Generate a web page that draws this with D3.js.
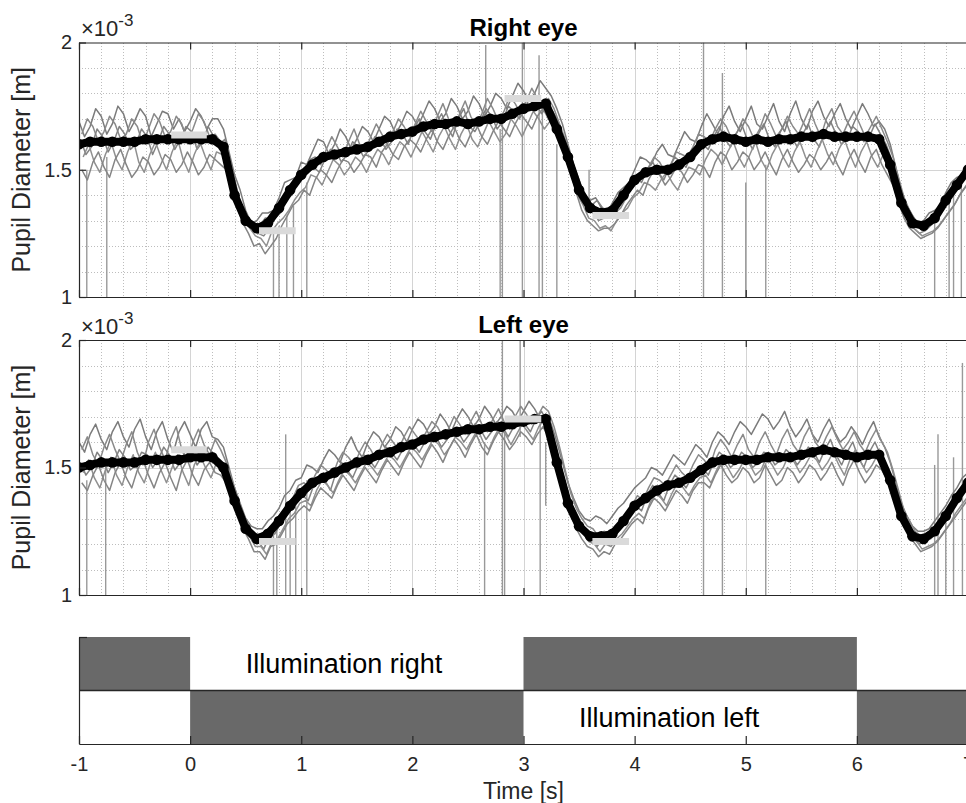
<!DOCTYPE html>
<html><head><meta charset="utf-8">
<script src="https://cdn.jsdelivr.net/npm/d3@7"></script>
<style>
body{margin:0;background:#fff}
svg{display:block;font-family:"Liberation Sans",Arial,Helvetica,sans-serif}
</style>
</head><body>
<svg id="c" width="966" height="803"></svg>
<script>
// ---------- DATA (values in units of 1e-3 m) ----------
// mean traces sampled every 0.1 s from -1 s to 7 s; single trials every 0.05 s
const meanTimes = d3.range(81).map(i => Math.round(-10 + i) / 10);
const trialTimes = d3.range(161).map(i => Math.round(-100 + 5 * i) / 100);
const trialShift = [0, 0.025, 0.0125, 0.0375, 0.025];
const xTicks = [-1, 0, 1, 2, 3, 4, 5, 6, 7];
const yTicks = [1, 1.5, 2];
const yTickLabels = ["1", "1.5", "2"];

const rightMean = [1.60,1.61,1.61,1.61,1.61,1.61,1.62,1.62,1.62,1.62,
1.62,1.62,1.62,1.59,1.40,1.30,1.27,1.29,1.35,1.42,
1.48,1.52,1.55,1.56,1.57,1.58,1.59,1.61,1.63,1.64,
1.65,1.67,1.68,1.68,1.69,1.68,1.69,1.70,1.70,1.72,
1.74,1.75,1.76,1.66,1.55,1.42,1.35,1.33,1.34,1.40,
1.46,1.49,1.50,1.50,1.52,1.55,1.60,1.62,1.63,1.62,
1.61,1.62,1.61,1.62,1.62,1.63,1.63,1.64,1.63,1.63,
1.63,1.63,1.62,1.52,1.37,1.29,1.28,1.31,1.38,1.44,1.50];

const rightTrial1 = [
1.69,1.63,1.67,1.74,1.71,1.64,1.68,1.75,1.72,1.65,1.69,1.74,1.71,1.63,1.68,1.73,1.72,1.66,1.70,1.65,
1.69,1.74,1.71,1.66,1.70,1.70,1.66,1.57,1.48,1.42,1.34,1.29,1.30,1.33,1.33,1.34,1.39,1.45,1.46,1.47,
1.53,1.52,1.57,1.62,1.61,1.56,1.60,1.66,1.63,1.58,1.62,1.67,1.65,1.61,1.66,1.71,1.69,1.64,1.68,1.73,
1.71,1.67,1.72,1.77,1.74,1.69,1.72,1.78,1.75,1.70,1.73,1.79,1.76,1.71,1.75,1.80,1.78,1.74,1.79,1.84,
1.81,1.77,1.80,1.85,1.82,1.79,1.74,1.68,1.60,1.52,1.46,1.40,1.38,1.39,1.35,1.33,1.37,1.41,1.43,1.45,
1.50,1.55,1.54,1.52,1.57,1.60,1.56,1.55,1.60,1.65,1.62,1.61,1.67,1.72,1.68,1.64,1.71,1.75,1.69,1.65,
1.70,1.75,1.68,1.66,1.71,1.76,1.69,1.65,1.72,1.77,1.70,1.66,1.73,1.77,1.71,1.67,1.72,1.76,1.70,1.66,
1.71,1.76,1.72,1.67,1.69,1.66,1.60,1.51,1.42,1.36,1.32,1.29,1.30,1.33,1.34,1.36,1.41,1.45,1.47,1.48,
1.52];
const rightTrial2 = [
1.64,1.70,1.67,1.61,1.65,1.71,1.68,1.62,1.64,1.70,1.67,1.60,1.66,1.72,1.69,1.63,1.65,1.71,1.68,1.61,
1.66,1.72,1.69,1.63,1.64,1.61,1.55,1.46,1.38,1.32,1.29,1.27,1.28,1.31,1.31,1.32,1.36,1.41,1.44,1.46,
1.50,1.54,1.55,1.52,1.58,1.63,1.59,1.55,1.61,1.66,1.60,1.57,1.63,1.68,1.64,1.60,1.65,1.70,1.67,1.63,
1.68,1.73,1.69,1.65,1.71,1.76,1.70,1.66,1.72,1.77,1.71,1.67,1.72,1.78,1.74,1.69,1.73,1.79,1.76,1.72,
1.77,1.82,1.78,1.74,1.78,1.74,1.68,1.62,1.56,1.48,1.41,1.37,1.34,1.30,1.31,1.33,1.33,1.35,1.39,1.44,
1.47,1.47,1.51,1.55,1.53,1.49,1.52,1.57,1.56,1.55,1.59,1.64,1.63,1.61,1.66,1.70,1.67,1.62,1.65,1.70,
1.67,1.62,1.66,1.72,1.68,1.63,1.66,1.71,1.67,1.64,1.69,1.74,1.68,1.63,1.70,1.74,1.67,1.64,1.69,1.73,
1.68,1.63,1.67,1.71,1.66,1.61,1.55,1.47,1.39,1.34,1.30,1.28,1.29,1.31,1.32,1.35,1.39,1.43,1.45,1.47,
1.51];
const rightTrial3 = [
1.62,1.56,1.59,1.66,1.63,1.57,1.61,1.67,1.64,1.58,1.60,1.66,1.63,1.56,1.61,1.67,1.64,1.58,1.62,1.67,
1.65,1.58,1.61,1.67,1.63,1.60,1.62,1.53,1.44,1.35,1.29,1.26,1.25,1.24,1.27,1.31,1.33,1.38,1.40,1.45,
1.47,1.51,1.51,1.49,1.54,1.58,1.57,1.53,1.56,1.61,1.59,1.55,1.58,1.63,1.62,1.58,1.61,1.66,1.64,1.60,
1.66,1.70,1.65,1.62,1.68,1.72,1.67,1.63,1.70,1.74,1.67,1.65,1.69,1.74,1.71,1.66,1.69,1.75,1.73,1.70,
1.74,1.79,1.76,1.72,1.75,1.73,1.69,1.61,1.52,1.45,1.40,1.37,1.36,1.38,1.35,1.34,1.37,1.39,1.42,1.44,
1.47,1.45,1.50,1.53,1.49,1.46,1.51,1.55,1.53,1.51,1.56,1.60,1.60,1.58,1.63,1.67,1.62,1.59,1.64,1.68,
1.62,1.58,1.64,1.68,1.62,1.59,1.65,1.69,1.63,1.59,1.64,1.68,1.62,1.59,1.65,1.69,1.64,1.60,1.62,1.67,
1.65,1.61,1.63,1.68,1.64,1.60,1.54,1.45,1.35,1.30,1.27,1.25,1.26,1.28,1.30,1.34,1.37,1.41,1.43,1.47,
1.49];
const rightTrial4 = [
1.55,1.60,1.53,1.49,1.56,1.61,1.54,1.50,1.57,1.62,1.53,1.49,1.56,1.61,1.55,1.50,1.57,1.62,1.54,1.49,
1.56,1.61,1.55,1.50,1.57,1.56,1.53,1.45,1.37,1.31,1.27,1.24,1.23,1.20,1.26,1.29,1.31,1.34,1.38,1.41,
1.43,1.48,1.47,1.44,1.49,1.54,1.52,1.48,1.51,1.55,1.53,1.49,1.54,1.58,1.56,1.52,1.57,1.61,1.59,1.55,
1.60,1.65,1.61,1.57,1.63,1.67,1.62,1.58,1.64,1.68,1.62,1.59,1.64,1.69,1.65,1.61,1.64,1.70,1.67,1.63,
1.68,1.73,1.70,1.66,1.69,1.66,1.60,1.53,1.47,1.40,1.36,1.31,1.30,1.27,1.28,1.26,1.30,1.33,1.35,1.39,
1.41,1.45,1.44,1.42,1.46,1.49,1.45,1.42,1.47,1.51,1.50,1.48,1.54,1.58,1.56,1.52,1.57,1.61,1.55,1.51,
1.56,1.61,1.54,1.50,1.56,1.60,1.55,1.51,1.57,1.61,1.55,1.51,1.57,1.62,1.56,1.52,1.58,1.62,1.56,1.51,
1.57,1.61,1.55,1.51,1.56,1.53,1.46,1.39,1.32,1.28,1.26,1.24,1.25,1.26,1.28,1.31,1.34,1.37,1.41,1.44,
1.47];
const rightTrial5 = [
1.50,1.46,1.53,1.57,1.51,1.47,1.54,1.58,1.52,1.47,1.50,1.55,1.53,1.48,1.51,1.56,1.54,1.49,1.52,1.57,
1.53,1.48,1.51,1.56,1.54,1.52,1.50,1.42,1.35,1.29,1.25,1.20,1.21,1.17,1.20,1.23,1.28,1.32,1.36,1.38,
1.42,1.40,1.46,1.50,1.48,1.45,1.50,1.54,1.53,1.49,1.52,1.56,1.55,1.51,1.57,1.60,1.56,1.54,1.59,1.62,
1.60,1.57,1.62,1.66,1.61,1.58,1.63,1.67,1.62,1.59,1.64,1.68,1.63,1.60,1.65,1.69,1.66,1.63,1.68,1.72,
1.69,1.66,1.71,1.74,1.70,1.68,1.64,1.57,1.49,1.41,1.34,1.30,1.28,1.26,1.27,1.27,1.29,1.32,1.36,1.39,
1.42,1.40,1.46,1.50,1.48,1.44,1.47,1.51,1.49,1.45,1.48,1.52,1.51,1.47,1.53,1.57,1.55,1.50,1.53,1.57,
1.55,1.50,1.53,1.57,1.52,1.48,1.54,1.58,1.53,1.49,1.52,1.56,1.54,1.50,1.53,1.57,1.52,1.48,1.54,1.58,
1.53,1.49,1.55,1.58,1.52,1.48,1.44,1.37,1.31,1.27,1.25,1.23,1.24,1.25,1.27,1.30,1.33,1.36,1.40,1.43,
1.46];

const leftMean = [1.50,1.51,1.52,1.52,1.52,1.52,1.53,1.53,1.53,1.53,
1.54,1.54,1.54,1.50,1.37,1.26,1.22,1.24,1.29,1.35,
1.40,1.44,1.46,1.48,1.50,1.52,1.53,1.55,1.56,1.58,
1.59,1.61,1.62,1.63,1.64,1.65,1.65,1.66,1.66,1.67,
1.68,1.69,1.69,1.52,1.36,1.27,1.23,1.23,1.24,1.29,
1.35,1.38,1.41,1.43,1.44,1.46,1.49,1.52,1.53,1.53,
1.53,1.53,1.54,1.54,1.54,1.55,1.56,1.57,1.56,1.55,
1.54,1.55,1.55,1.45,1.31,1.23,1.22,1.25,1.31,1.38,1.44];

const leftTrial1 = [
1.60,1.56,1.63,1.67,1.61,1.57,1.64,1.68,1.62,1.58,1.65,1.69,1.62,1.57,1.64,1.68,1.61,1.56,1.64,1.68,
1.63,1.58,1.65,1.68,1.62,1.61,1.58,1.50,1.42,1.36,1.30,1.27,1.26,1.26,1.29,1.31,1.34,1.39,1.41,1.45,
1.46,1.51,1.50,1.48,1.53,1.57,1.55,1.52,1.58,1.62,1.57,1.54,1.60,1.64,1.62,1.58,1.61,1.66,1.64,1.60,
1.65,1.69,1.67,1.63,1.66,1.71,1.68,1.64,1.69,1.73,1.70,1.66,1.69,1.74,1.71,1.67,1.70,1.74,1.72,1.68,
1.72,1.76,1.73,1.69,1.71,1.67,1.60,1.52,1.44,1.38,1.33,1.30,1.29,1.31,1.30,1.28,1.31,1.34,1.36,1.39,
1.42,1.44,1.46,1.50,1.49,1.47,1.51,1.55,1.53,1.51,1.55,1.59,1.57,1.54,1.60,1.64,1.62,1.59,1.64,1.68,
1.66,1.63,1.67,1.71,1.69,1.65,1.68,1.72,1.66,1.62,1.65,1.69,1.63,1.60,1.65,1.69,1.64,1.60,1.62,1.66,
1.63,1.59,1.64,1.68,1.62,1.58,1.52,1.44,1.36,1.31,1.27,1.25,1.25,1.26,1.29,1.32,1.35,1.39,1.42,1.46,
1.48];
const leftTrial2 = [
1.57,1.62,1.55,1.51,1.58,1.63,1.57,1.52,1.59,1.64,1.56,1.51,1.60,1.65,1.58,1.53,1.61,1.66,1.57,1.52,
1.60,1.65,1.59,1.55,1.61,1.57,1.52,1.45,1.39,1.32,1.28,1.23,1.24,1.22,1.27,1.28,1.32,1.36,1.38,1.43,
1.44,1.42,1.47,1.51,1.49,1.46,1.52,1.56,1.54,1.51,1.56,1.60,1.57,1.53,1.59,1.63,1.60,1.57,1.62,1.66,
1.63,1.60,1.64,1.68,1.66,1.62,1.65,1.70,1.67,1.63,1.68,1.72,1.67,1.64,1.69,1.73,1.68,1.65,1.70,1.74,
1.71,1.67,1.70,1.74,1.72,1.66,1.58,1.49,1.40,1.34,1.30,1.27,1.26,1.23,1.25,1.24,1.27,1.29,1.32,1.35,
1.39,1.37,1.42,1.46,1.45,1.43,1.47,1.51,1.48,1.46,1.51,1.55,1.53,1.50,1.57,1.61,1.58,1.54,1.59,1.63,
1.57,1.54,1.60,1.64,1.59,1.55,1.61,1.65,1.59,1.56,1.62,1.66,1.60,1.57,1.62,1.66,1.61,1.57,1.60,1.64,
1.59,1.56,1.61,1.65,1.60,1.56,1.49,1.41,1.33,1.29,1.25,1.23,1.24,1.25,1.27,1.30,1.33,1.37,1.40,1.43,
1.46];
const leftTrial3 = [
1.52,1.47,1.50,1.56,1.53,1.48,1.52,1.57,1.54,1.49,1.51,1.56,1.55,1.50,1.53,1.58,1.55,1.49,1.52,1.57,
1.56,1.51,1.54,1.58,1.55,1.53,1.49,1.42,1.35,1.29,1.25,1.21,1.21,1.18,1.23,1.24,1.28,1.32,1.34,1.38,
1.39,1.37,1.43,1.47,1.45,1.41,1.48,1.52,1.49,1.46,1.51,1.55,1.53,1.50,1.54,1.58,1.56,1.53,1.57,1.61,
1.59,1.56,1.60,1.64,1.62,1.58,1.61,1.65,1.64,1.60,1.63,1.67,1.65,1.61,1.64,1.68,1.66,1.62,1.66,1.70,
1.67,1.64,1.69,1.72,1.68,1.63,1.54,1.45,1.37,1.31,1.27,1.24,1.22,1.19,1.22,1.21,1.24,1.26,1.29,1.32,
1.35,1.33,1.39,1.43,1.40,1.37,1.43,1.47,1.45,1.42,1.46,1.49,1.50,1.47,1.52,1.56,1.54,1.50,1.52,1.56,
1.54,1.50,1.52,1.56,1.55,1.51,1.53,1.57,1.55,1.51,1.54,1.58,1.56,1.52,1.57,1.61,1.55,1.51,1.56,1.60,
1.54,1.50,1.56,1.60,1.55,1.51,1.46,1.38,1.30,1.26,1.22,1.20,1.21,1.22,1.24,1.27,1.30,1.34,1.37,1.40,
1.43];
const leftTrial4 = [
1.48,1.53,1.46,1.42,1.49,1.54,1.47,1.43,1.50,1.55,1.48,1.44,1.51,1.56,1.49,1.44,1.50,1.55,1.48,1.43,
1.51,1.55,1.50,1.46,1.52,1.50,1.46,1.39,1.33,1.27,1.23,1.19,1.19,1.16,1.21,1.22,1.26,1.30,1.32,1.36,
1.37,1.35,1.41,1.45,1.43,1.40,1.45,1.49,1.47,1.44,1.48,1.52,1.50,1.47,1.51,1.55,1.53,1.50,1.54,1.58,
1.56,1.53,1.57,1.61,1.59,1.55,1.58,1.62,1.60,1.57,1.61,1.65,1.60,1.57,1.62,1.66,1.63,1.59,1.63,1.67,
1.64,1.61,1.66,1.69,1.65,1.59,1.50,1.42,1.34,1.28,1.24,1.21,1.20,1.17,1.20,1.19,1.22,1.24,1.27,1.30,
1.32,1.30,1.36,1.40,1.38,1.35,1.40,1.44,1.42,1.39,1.43,1.46,1.47,1.44,1.49,1.53,1.50,1.46,1.49,1.53,
1.51,1.47,1.49,1.54,1.51,1.47,1.50,1.55,1.52,1.48,1.51,1.55,1.53,1.49,1.52,1.56,1.51,1.47,1.53,1.57,
1.52,1.48,1.51,1.55,1.52,1.48,1.43,1.35,1.28,1.24,1.21,1.18,1.19,1.20,1.22,1.25,1.28,1.32,1.35,1.38,
1.41];
const leftTrial5 = [
1.44,1.41,1.47,1.51,1.45,1.41,1.48,1.52,1.46,1.42,1.49,1.53,1.47,1.42,1.48,1.52,1.46,1.41,1.49,1.53,
1.47,1.43,1.49,1.52,1.48,1.47,1.44,1.37,1.32,1.26,1.22,1.17,1.17,1.14,1.19,1.20,1.24,1.28,1.30,1.33,
1.35,1.33,1.38,1.42,1.40,1.38,1.43,1.47,1.44,1.41,1.46,1.50,1.47,1.44,1.49,1.53,1.50,1.47,1.52,1.56,
1.53,1.50,1.55,1.59,1.56,1.52,1.57,1.61,1.58,1.54,1.59,1.63,1.58,1.55,1.60,1.64,1.61,1.57,1.60,1.64,
1.62,1.59,1.63,1.66,1.62,1.57,1.48,1.40,1.32,1.26,1.22,1.19,1.18,1.15,1.17,1.16,1.20,1.22,1.25,1.28,
1.30,1.28,1.34,1.38,1.36,1.33,1.37,1.41,1.39,1.36,1.41,1.44,1.44,1.42,1.47,1.51,1.47,1.44,1.46,1.50,
1.48,1.44,1.46,1.51,1.47,1.43,1.45,1.50,1.48,1.44,1.47,1.51,1.49,1.45,1.48,1.52,1.47,1.43,1.49,1.53,
1.48,1.44,1.47,1.51,1.49,1.45,1.41,1.34,1.27,1.23,1.20,1.17,1.18,1.19,1.21,1.24,1.27,1.30,1.33,1.36,
1.39];

// blink / tracking glitches: [time s, low value, high value]
const rightSpikes = [[-0.93,1.0,1.50],[-0.75,1.0,1.55],[0.75,1.0,1.25],[0.80,1.0,1.28],[0.87,1.0,1.32],
[0.93,1.0,1.36],[1.05,1.0,1.45],[2.66,1.68,1.99],[2.79,1.0,1.66],[2.81,1.0,1.68],[2.99,1.0,2.0],
[3.14,1.0,1.95],[3.17,1.0,1.75],[3.30,1.0,1.60],[3.59,1.33,1.50],[4.62,1.0,2.0],[4.79,1.0,1.88],
[5.00,1.0,1.45],[5.18,1.0,1.52],[6.70,1.0,1.30],[6.83,1.0,1.38],[6.87,1.0,1.40],[6.94,1.0,1.45]];
const leftSpikes = [[-0.93,1.0,1.45],[-0.76,1.0,1.50],[0.75,1.0,1.25],[0.78,1.0,1.27],[0.86,1.0,1.63],
[0.90,1.0,1.33],[0.95,1.0,1.36],[1.05,1.0,1.45],[2.65,1.0,1.60],[2.81,1.0,2.0],[2.83,1.0,1.65],
[2.97,1.62,2.0],[3.15,1.0,1.68],[3.20,1.35,1.60],[4.62,1.0,1.50],[4.79,1.0,1.55],[5.18,1.0,1.52],
[6.70,1.0,1.51],[6.73,1.0,1.63],[6.80,1.0,1.30],[6.87,1.0,1.54],[6.95,1.0,1.91]];

// reference levels (light grey bars): [start s, end s, value]
const rightBars = [[-0.17,0.15,1.637],[0.62,0.95,1.26],[2.83,3.16,1.78],[3.62,3.95,1.32]];
const leftBars  = [[-0.17,0.15,1.57],[0.62,0.95,1.21],[2.83,3.16,1.69],[3.62,3.95,1.21]];

// illumination schedule: dark intervals in each row
const illumTopDark = [[-1,0],[3,6]];
const illumBottomDark = [[0,3],[6,7]];
const illumLabels = [{text:"Illumination right", t:0.5, row:1.5},{text:"Illumination left", t:3.5, row:0.5}];

// ---------- DRAW ----------
const svg = d3.select("#c");
const x = d3.scaleLinear().domain([-1, 7]).range([79, 968]);
const axisColor = "#262626";
const traceColors = ["#7b7b7b","#8a8a8a","#828282","#909090","#858585"];

const panels = [
  {title:"Right eye", top:42.5, bottom:297, mean:rightMean,
   trials:[rightTrial1,rightTrial2,rightTrial3,rightTrial4,rightTrial5],
   spikes:rightSpikes, bars:rightBars, id:"r", titleY:36, labelY:36},
  {title:"Left eye", top:340, bottom:595, mean:leftMean,
   trials:[leftTrial1,leftTrial2,leftTrial3,leftTrial4,leftTrial5],
   spikes:leftSpikes, bars:leftBars, id:"l", titleY:333, labelY:334}
];

const xMinor = d3.range(41).map(i => -1 + i * 0.2).filter(v => Math.abs(v - Math.round(v)) > 1e-6);
const yMinor = [1.1,1.2,1.3,1.4,1.6,1.7,1.8,1.9];

const axStyle = sel => {
  sel.selectAll("path,line").attr("stroke", axisColor).attr("stroke-width", 1.2);
  sel.selectAll("text").attr("fill", "#262626").attr("font-size", 20)
    .attr("font-family", "Liberation Sans, Arial, sans-serif");
};

panels.forEach(p => {
  const y = d3.scaleLinear().domain([1, 2]).range([p.bottom, p.top]);
  const g = svg.append("g");
  svg.append("clipPath").attr("id", "clip" + p.id).append("rect")
    .attr("x", x(-1)).attr("y", p.top).attr("width", x(7) - x(-1)).attr("height", p.bottom - p.top);

  const grid = g.append("g").attr("shape-rendering", "crispEdges");
  grid.selectAll(".xm").data(xMinor).join("line")
    .attr("x1", d => Math.round(x(d)) + 0.5).attr("x2", d => Math.round(x(d)) + 0.5)
    .attr("y1", p.top).attr("y2", p.bottom)
    .attr("stroke", "#bdbdbd").attr("stroke-dasharray", "1,2");
  grid.selectAll(".ym").data(yMinor).join("line")
    .attr("y1", d => Math.round(y(d)) + 0.5).attr("y2", d => Math.round(y(d)) + 0.5)
    .attr("x1", x(-1)).attr("x2", x(7))
    .attr("stroke", "#bdbdbd").attr("stroke-dasharray", "1,2");
  grid.selectAll(".xM").data(xTicks.slice(1)).join("line")
    .attr("x1", d => Math.round(x(d)) + 0.5).attr("x2", d => Math.round(x(d)) + 0.5)
    .attr("y1", p.top).attr("y2", p.bottom).attr("stroke", "#d4d4d4");
  grid.selectAll(".yM").data([1.5]).join("line")
    .attr("y1", d => Math.round(y(d)) + 0.5).attr("y2", d => Math.round(y(d)) + 0.5)
    .attr("x1", x(-1)).attr("x2", x(7)).attr("stroke", "#d4d4d4");

  const data = g.append("g").attr("clip-path", "url(#clip" + p.id + ")");
  data.selectAll(".sp").data(p.spikes).join("line")
    .attr("x1", d => x(d[0])).attr("x2", d => x(d[0]))
    .attr("y1", d => y(d[1])).attr("y2", d => y(d[2]))
    .attr("stroke", "#999").attr("stroke-width", 1.4);

  data.selectAll(".tr").data(p.trials).join("path")
    .attr("d", (d, k) => d3.line().x((v, i) => x(trialTimes[i] + trialShift[k])).y(v => y(v))(d))
    .attr("fill", "none")
    .attr("stroke", (d, k) => traceColors[k]).attr("stroke-width", 1.5)
    .attr("stroke-linejoin", "round");

  const mline = d3.line().x((v, i) => x(meanTimes[i])).y(v => y(v));
  data.append("path").attr("d", mline(p.mean)).attr("fill", "none")
    .attr("stroke", "#000").attr("stroke-width", 8).attr("stroke-linejoin", "round");
  data.selectAll(".mk").data(p.mean).join("circle")
    .attr("cx", (d, i) => x(meanTimes[i])).attr("cy", d => y(d)).attr("r", 5.3).attr("fill", "#000");

  data.selectAll(".bar").data(p.bars).join("line")
    .attr("x1", d => x(d[0])).attr("x2", d => x(d[1]))
    .attr("y1", d => y(d[2])).attr("y2", d => y(d[2]))
    .attr("stroke", "#dadada").attr("stroke-width", 7);

  g.append("g").attr("transform", `translate(0,${p.bottom})`)
    .call(d3.axisBottom(x).tickValues(xTicks).tickSize(-7).tickSizeOuter(0).tickFormat(""))
    .call(axStyle);
  g.append("g").attr("transform", `translate(0,${p.top})`)
    .call(d3.axisTop(x).tickValues(xTicks).tickSize(-7).tickSizeOuter(0).tickFormat(""))
    .call(axStyle);
  g.append("g").attr("transform", `translate(${x(-1)},0)`)
    .call(d3.axisLeft(y).tickValues(yTicks).tickSize(-7).tickSizeOuter(0).tickPadding(7)
      .tickFormat((d, i) => yTickLabels[i]))
    .call(axStyle);

  svg.append("text").attr("x", (x(-1) + x(7)) / 2).attr("y", p.titleY).attr("text-anchor", "middle")
    .attr("font-size", 24).attr("font-weight", "bold").attr("fill", "#000").text(p.title);
  const ex = svg.append("text").attr("x", 81).attr("y", p.labelY).attr("font-size", 22).attr("fill", "#262626");
  ex.append("tspan").text("×10");
  ex.append("tspan").attr("dy", -10).attr("font-size", 17).text("-3");
  svg.append("text").attr("transform", `translate(30,${(p.top + p.bottom) / 2}) rotate(-90)`)
    .attr("text-anchor", "middle").attr("font-size", 25).attr("fill", "#262626").text("Pupil Diameter [m]");
});

// ---------- illumination panel ----------
const yI = d3.scaleLinear().domain([0, 2]).range([744, 637]);
const gi = svg.append("g");
gi.selectAll(".dt").data(illumTopDark).join("rect")
  .attr("x", d => x(d[0])).attr("width", d => x(d[1]) - x(d[0]))
  .attr("y", yI(2)).attr("height", yI(1) - yI(2)).attr("fill", "#696969");
gi.selectAll(".db").data(illumBottomDark).join("rect")
  .attr("x", d => x(d[0])).attr("width", d => x(d[1]) - x(d[0]))
  .attr("y", yI(1)).attr("height", yI(0) - yI(1)).attr("fill", "#696969");
gi.append("line").attr("x1", x(-1)).attr("x2", x(7)).attr("y1", yI(1)).attr("y2", yI(1))
  .attr("stroke", axisColor).attr("stroke-width", 1.3);
gi.selectAll(".il").data(illumLabels).join("text")
  .attr("x", d => x(d.t)).attr("y", d => yI(d.row)).attr("dy", "0.35em")
  .attr("font-size", 27).attr("fill", "#000").text(d => d.text);
gi.append("g").attr("transform", `translate(0,${yI(0)})`)
  .call(d3.axisBottom(x).tickValues(xTicks).tickSize(-8).tickSizeOuter(0).tickPadding(13).tickFormat(d => String(d)))
  .call(axStyle);
gi.append("g").attr("transform", `translate(${x(-1)},0)`)
  .call(d3.axisLeft(yI).tickValues([2]).tickSize(-8).tickSizeOuter(0).tickFormat(""))
  .call(axStyle);
svg.append("text").attr("x", x(3)).attr("y", 799).attr("text-anchor", "middle")
  .attr("font-size", 23).attr("fill", "#262626").text("Time [s]");
</script>
</body></html>
